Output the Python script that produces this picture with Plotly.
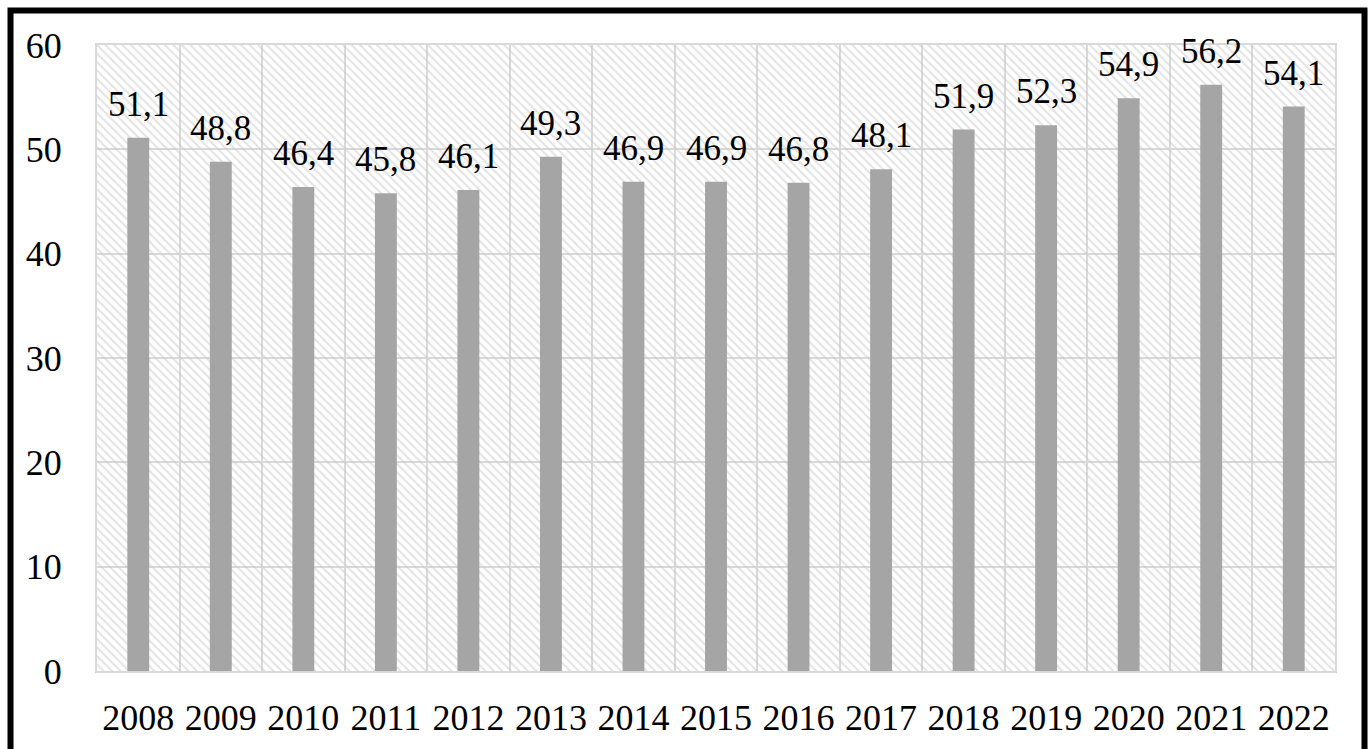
import plotly.graph_objects as go

years = ["2008", "2009", "2010", "2011", "2012", "2013", "2014", "2015",
         "2016", "2017", "2018", "2019", "2020", "2021", "2022"]
values = [51.1, 48.8, 46.4, 45.8, 46.1, 49.3, 46.9, 46.9,
          46.8, 48.1, 51.9, 52.3, 54.9, 56.2, 54.1]
y_max = 60
y_ticks = [0, 10, 20, 30, 40, 50, 60]

W, H = 1372, 749
ml, mr, mt, mb = 97, 37, 45, 78
pw, ph = W - ml - mr, H - mt - mb

tick_font = dict(family="Liberation Serif, Times New Roman, serif", size=36, color="black")
label_font = dict(family="Liberation Serif, Times New Roman, serif", size=35, color="black")

xs = list(range(len(years)))
bounds = [i - 0.5 for i in range(1, len(years))]

fig = go.Figure()

# hatched plot background
fig.add_trace(go.Bar(
    x=xs, y=[y_max] * len(years), width=1,
    marker=dict(color="rgba(0,0,0,0)", line_width=0,
                pattern=dict(shape="\\", fgcolor="#c8c8c8", bgcolor="rgba(0,0,0,0)",
                             size=6, solidity=0.35)),
    hoverinfo="skip", showlegend=False,
))

fig.add_trace(go.Bar(
    x=xs, y=values, width=0.265,
    marker=dict(color="#a5a5a5", line_width=0),
    showlegend=False,
))

for x, v in zip(xs, values):
    fig.add_annotation(x=x, y=v, text=f"{v:.1f}".replace(".", ","),
                       showarrow=False, yanchor="bottom", yshift=12,
                       font=label_font)

# outer frame (bottom edge runs off the picture)
def px(x):
    return (x - ml) / pw

def py(y):
    return (H - mb - y) / ph

fig.add_shape(type="rect", xref="paper", yref="paper",
              x0=px(10.5), x1=px(1364.5), y0=py(770), y1=py(10.5),
              line=dict(color="black", width=6), fillcolor="rgba(0,0,0,0)")

fig.update_layout(
    width=W, height=H,
    margin=dict(l=ml, r=mr, t=mt, b=mb),
    paper_bgcolor="white", plot_bgcolor="white",
    barmode="overlay",
    font=tick_font,
    xaxis=dict(range=[-0.5, len(years) - 0.5], tickvals=xs, ticktext=years,
               tickangle=0, showgrid=False, zeroline=False,
               minor=dict(tickvals=bounds, showgrid=True, gridcolor="#d9d9d9",
                          gridwidth=2, ticks=""),
               showline=True, linecolor="#d9d9d9", linewidth=2, mirror=True,
               ticks="outside", ticklen=14, tickcolor="rgba(0,0,0,0)",
               tickfont=tick_font),
    yaxis=dict(range=[0, y_max], tickvals=y_ticks, showgrid=True,
               gridcolor="#d9d9d9", gridwidth=2, zeroline=False,
               showline=True, linecolor="#d9d9d9", linewidth=2, mirror=True,
               ticks="outside", ticklen=26, tickcolor="rgba(0,0,0,0)",
               tickfont=tick_font),
)

# drop the default page margin so the figure sits at the window's corner
fig.write_html("out.html", config={"displayModeBar": False},
               post_script="document.body.style.margin='0';document.body.style.overflow='hidden';")
